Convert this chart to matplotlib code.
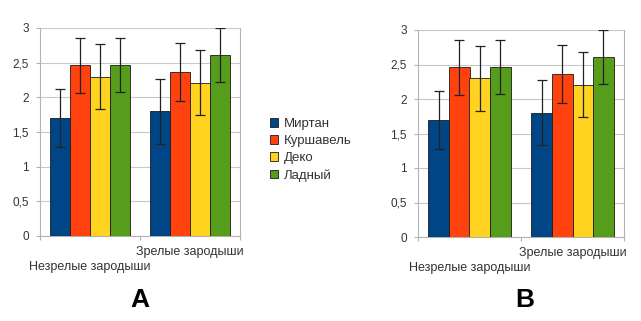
import matplotlib
matplotlib.use("Agg")
import matplotlib.pyplot as plt
import numpy as np
from matplotlib.patches import Patch

plt.rcParams['font.family'] = ['Liberation Sans', 'DejaVu Sans']

categories = ["Незрелые зародыши", "Зрелые зародыши"]
series = ["Миртан", "Куршавель", "Деко", "Ладный"]
colors = ["#004586", "#ff420e", "#ffd320", "#579d1c"]
values = {
    "Миртан":    [1.70, 1.80],
    "Куршавель": [2.46, 2.36],
    "Деко":      [2.30, 2.21],
    "Ладный":    [2.46, 2.61],
}
errors = {
    "Миртан":    [0.42, 0.47],
    "Куршавель": [0.40, 0.42],
    "Деко":      [0.47, 0.47],
    "Ладный":    [0.39, 0.39],
}
yticks = [0, 0.5, 1, 1.5, 2, 2.5, 3]
ytick_labels = ["0", "0,5", "1", "1,5", "2", "2,5", "3"]
panel_labels = ["A", "B"]

W, H = 641, 321
fig = plt.figure(figsize=(W / 100, H / 100), dpi=100)

def draw_panel(rect, letter, letter_x):
    ax = fig.add_axes(rect)
    bw = 0.2
    x0 = np.arange(len(categories)) + 0.5
    for i, s in enumerate(series):
        xs = x0 + (i - 1.5) * bw
        ax.bar(xs, values[s], width=bw, color=colors[i], edgecolor="#1a1a1a",
               linewidth=0.6, zorder=3)
        ax.errorbar(xs, values[s], yerr=errors[s], fmt="none", ecolor="#222222",
                    elinewidth=0.9, capsize=3.8, capthick=0.9, zorder=4)
    ax.set_xlim(0, 2)
    ax.set_ylim(0, 3)
    ax.set_yticks(yticks)
    ax.set_yticklabels(ytick_labels, fontsize=8.5, color="#333333")
    ax.set_xticks([0, 1, 2])
    ax.set_xticklabels([])
    ax.tick_params(axis="x", length=3, color="#b3b3b3", direction="out")
    ax.tick_params(axis="y", length=3, color="#b3b3b3", direction="out", pad=5)
    ax.yaxis.grid(True, color="#c8c8c8", linewidth=0.8, zorder=0)
    ax.set_axisbelow(True)
    for side in ["left", "bottom", "right"]:
        ax.spines[side].set_color("#b3b3b3")
        ax.spines[side].set_linewidth(0.8)
    ax.spines["top"].set_visible(False)
    # staggered category labels
    for j, cat in enumerate(categories):
        off = -0.148 if j == 0 else -0.075
        ax.text(x0[j], off, cat, transform=ax.get_xaxis_transform(),
                ha="center", va="center", fontsize=9, color="#333333")
    fig.text(letter_x / W, 1 - 300 / H, letter, ha="center", va="center",
             fontsize=19, fontweight="bold", color="black")
    return ax

axA = draw_panel([40 / W, 1 - 236 / H, 200 / W, 208 / H], panel_labels[0], 140)
axB = draw_panel([418 / W, 1 - 237 / H, 206 / W, 207 / H], panel_labels[1], 525)

handles = [Patch(facecolor=c, edgecolor="#1a1a1a", linewidth=0.6) for c in colors]
fig.legend(handles, series, loc="center left", bbox_to_anchor=(265 / W, 1 - 150 / H),
           frameon=False, fontsize=9.5, handlelength=0.6, handleheight=0.6,
           handletextpad=0.4, labelspacing=0.38, borderaxespad=0, labelcolor="#333333")

fig.savefig("out.png", dpi=100)
